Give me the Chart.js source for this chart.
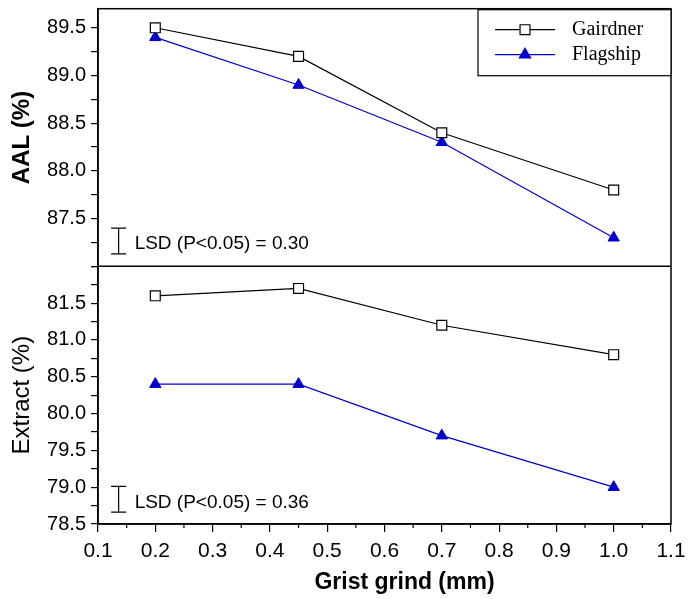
<!DOCTYPE html>
<html><head><meta charset="utf-8">
<script src="https://cdn.jsdelivr.net/npm/chart.js@4/dist/chart.umd.min.js"></script>
<style>html,body{margin:0;padding:0;background:#fff}#wrap{width:689px;height:599px}</style>
</head><body><div id="wrap"><canvas id="c" width="689" height="599"></canvas></div>
<script>
// ---- data ----
const grindMm = [0.2, 0.45, 0.7, 1.0];
const aalGairdner = [89.5, 89.2, 88.4, 87.8];
const aalFlagship = [89.4, 88.9, 88.3, 87.3];
const extractGairdner = [81.6, 81.7, 81.2, 80.8];
const extractFlagship = [80.4, 80.4, 79.7, 79.0];
const seriesNames = ['Gairdner', 'Flagship'];
const xTickLabels = ['0.1','0.2','0.3','0.4','0.5','0.6','0.7','0.8','0.9','1.0','1.1'];
const aalTickLabels = ['87.5','88.0','88.5','89.0','89.5'];
const extractTickLabels = ['78.5','79.0','79.5','80.0','80.5','81.0','81.5'];
const lsdX = 0.136;
const lsdAal = [87.13, 87.40];
const lsdExtract = [78.66, 79.01];
const lsdLabels = ['LSD (P<0.05) = 0.30', 'LSD (P<0.05) = 0.36'];
const axisTitles = {x: 'Grist grind (mm)', top: 'AAL (%)', bottom: 'Extract (%)'};

// ---- styles ----
const BLACK = '#000000';
const BLUE = '#0000cc';
const SANS = "'Liberation Sans', Arial, Helvetica, sans-serif";
const SERIF = "'Liberation Serif', 'Times New Roman', serif";

const toPts = (xs, ys) => xs.map((x, i) => ({x: x, y: ys[i]}));
const gStyle = {borderColor: BLACK, backgroundColor: '#ffffff', pointStyle: 'rect', pointRadius: 7, pointBorderWidth: 1.2, borderWidth: 1.2};
const fStyle = {borderColor: BLUE, backgroundColor: BLUE, pointStyle: 'triangle', pointRadius: 6.5, pointBorderWidth: 1, borderWidth: 1.2};
const lsdStyle = {borderColor: BLACK, backgroundColor: BLACK, pointStyle: 'line', pointRadius: 7.5, pointBorderWidth: 1.2, borderWidth: 1.2};

const datasets = [
  Object.assign({label: seriesNames[0], data: toPts(grindMm, aalGairdner), yAxisID: 'yTop'}, gStyle),
  Object.assign({label: seriesNames[1], data: toPts(grindMm, aalFlagship), yAxisID: 'yTop'}, fStyle),
  Object.assign({label: seriesNames[0], data: toPts(grindMm, extractGairdner), yAxisID: 'yBot'}, gStyle),
  Object.assign({label: seriesNames[1], data: toPts(grindMm, extractFlagship), yAxisID: 'yBot'}, fStyle),
  Object.assign({label: 'lsdTop', data: toPts([lsdX, lsdX], lsdAal), yAxisID: 'yTop', lsd: lsdLabels[0]}, lsdStyle),
  Object.assign({label: 'lsdBot', data: toPts([lsdX, lsdX], lsdExtract), yAxisID: 'yBot', lsd: lsdLabels[1]}, lsdStyle)
];

function labelFrom(list) {
  return function (v) {
    const s = Number(v).toFixed(1);
    return (list.indexOf(s) >= 0 && Math.abs(v * 2 - Math.round(v * 2)) < 1e-6) ? s : '';
  };
}

function yAxis(min, max, list, title, isTop) {
  return {
    type: 'linear', position: 'left', stack: 'panels', stackWeight: 1,
    min: min, max: max,
    afterFit: s => { s.width = 98; s.paddingTop = 0; s.paddingBottom = 0; },
    ticks: {stepSize: 0.25, includeBounds: false, autoSkip: false, color: BLACK, padding: 5,
            font: {family: SANS, size: 20}, callback: labelFrom(list)},
    grid: {drawOnChartArea: false, drawTicks: true, tickLength: 7, color: BLACK, lineWidth: 1.2},
    border: {color: BLACK, width: 1.5},
    title: {display: true, text: title, color: BLACK, padding: {top: 8, bottom: 0},
            font: {family: SANS, size: isTop ? 24 : 24, weight: isTop ? 'bold' : 'normal'}}
  };
}

const framePlugin = {
  id: 'frame',
  afterDraw(chart) {
    const ctx = chart.ctx, a = chart.chartArea;
    const xs = chart.scales.x, yt = chart.scales.yTop;
    ctx.save();
    ctx.strokeStyle = BLACK;
    ctx.lineWidth = 1.5;
    ctx.strokeRect(a.left, a.top, a.right - a.left, a.bottom - a.top);
    ctx.beginPath();
    ctx.moveTo(a.left, yt.bottom);
    ctx.lineTo(a.right, yt.bottom);
    ctx.stroke();
    // minor x ticks
    ctx.lineWidth = 1.2;
    const tv = xs.ticks.map(t => t.value);
    for (let i = 0; i < tv.length - 1; i++) {
      const px = xs.getPixelForValue((tv[i] + tv[i + 1]) / 2);
      ctx.beginPath();
      ctx.moveTo(px, a.bottom);
      ctx.lineTo(px, a.bottom + 4);
      ctx.stroke();
    }
    // x axis title (sits slightly right of centre in the reference)
    ctx.fillStyle = BLACK;
    ctx.font = 'bold 23px ' + SANS;
    ctx.textAlign = 'center';
    ctx.textBaseline = 'middle';
    ctx.fillText(axisTitles.x, (a.left + a.right) / 2 + 20, xs.bottom - 16);
    // LSD labels
    ctx.font = '19px ' + SANS;
    ctx.textAlign = 'left';
    chart.data.datasets.forEach(ds => {
      if (!ds.lsd) return;
      const ys = chart.scales[ds.yAxisID];
      const px = xs.getPixelForValue(ds.data[0].x) + 16;
      const py = ys.getPixelForValue((ds.data[0].y + ds.data[1].y) / 2) + 3;
      ctx.fillText(ds.lsd, px, py);
    });
    // legend
    const bw = 193, bh = 66;
    const bx = a.right - bw, by = a.top + 1;
    ctx.fillStyle = '#ffffff';
    ctx.fillRect(bx, by, bw, bh);
    ctx.strokeStyle = BLACK;
    ctx.lineWidth = 1.2;
    ctx.strokeRect(bx, by, bw, bh);
    ctx.font = '20px ' + SERIF;
    [datasets[0], datasets[1]].forEach((ds, i) => {
      const ry = by + 20 + i * 25;
      ctx.strokeStyle = ds.borderColor;
      ctx.lineWidth = ds.borderWidth;
      ctx.beginPath();
      ctx.moveTo(bx + 17, ry);
      ctx.lineTo(bx + 77, ry);
      ctx.stroke();
      ctx.fillStyle = ds.backgroundColor;
      Chart.helpers.drawPoint(ctx, {pointStyle: ds.pointStyle, radius: ds.pointRadius, rotation: 0, borderWidth: ds.pointBorderWidth}, bx + 47, ry);
      ctx.fillStyle = BLACK;
      ctx.fillText(ds.label, bx + 94, ry);
    });
    ctx.restore();
  }
};

new Chart(document.getElementById('c'), {
  type: 'line',
  data: {datasets: datasets},
  plugins: [framePlugin],
  options: {
    responsive: false, animation: false, devicePixelRatio: 1, events: [],
    layout: {padding: {top: 6, right: 18, left: 0, bottom: 0}},
    plugins: {legend: {display: false}, tooltip: {enabled: false}},
    elements: {line: {tension: 0}},
    scales: {
      x: {
        type: 'linear', min: 0.1, max: 1.1,
        afterFit: s => { s.height = 75; s.paddingLeft = 0; s.paddingRight = 0; },
        ticks: {stepSize: 0.1, autoSkip: false, maxRotation: 0, color: BLACK, padding: 7,
                font: {family: SANS, size: 21},
                callback: v => { const i = Math.round((v - 0.1) * 10); return xTickLabels[i] || ''; }},
        grid: {drawOnChartArea: false, tickLength: 8, color: BLACK, lineWidth: 1.2},
        border: {color: BLACK, width: 1.5},
        title: {display: false}
      },
      yBot: yAxis(78.5, 82.0, extractTickLabels, axisTitles.bottom, false),
      yTop: yAxis(87.0, 89.7, aalTickLabels, axisTitles.top, true)
    }
  }
});
</script></body></html>
